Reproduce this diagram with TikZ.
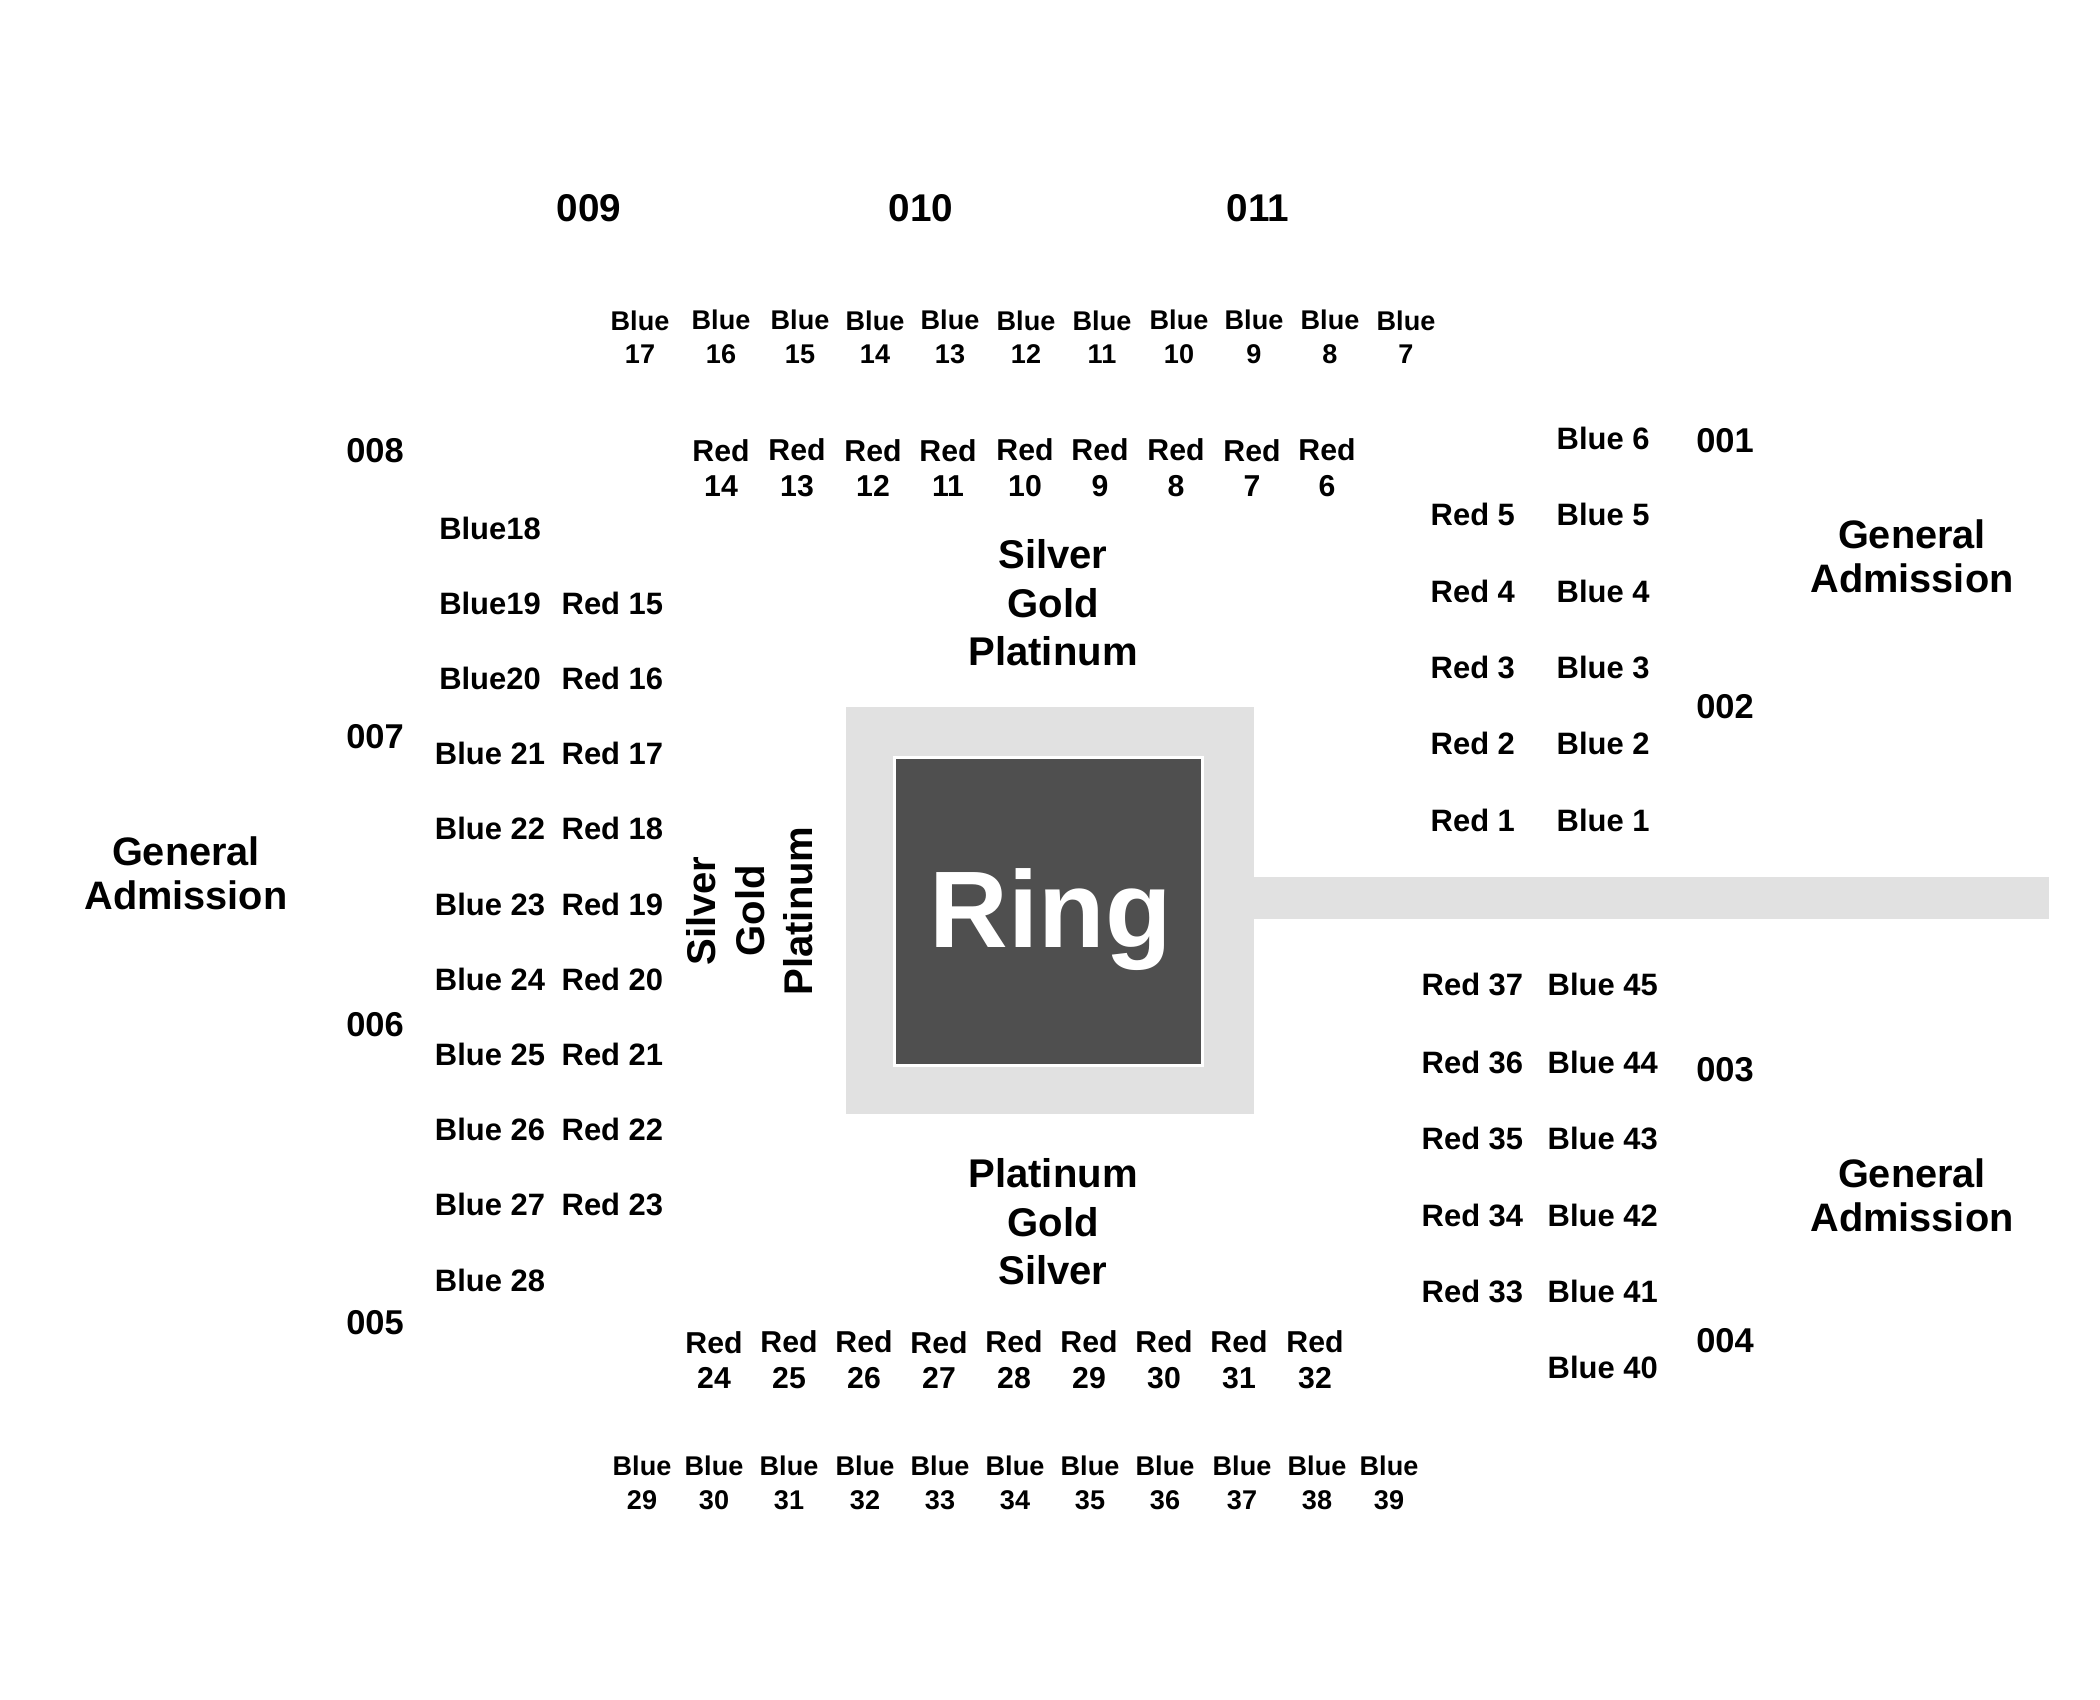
\documentclass[tikz,border=0pt]{standalone}
\usepackage{fontspec}
\setmainfont{Liberation Sans}
\definecolor{apron}{RGB}{225,225,225}
\definecolor{canvas}{RGB}{79,79,79}
\begin{document}
\begin{tikzpicture}[
  x=0.1mm,
  y=-0.1mm,
  aisle/.style={fill=apron},
  ringmat/.style={fill=canvas},
  ringlab/.style={font=\bfseries\fontsize{31}{35}\selectfont,text=white,inner sep=0pt},
  topsec/.style={font=\bfseries\fontsize{11}{13}\selectfont,inner sep=0pt},
  sec/.style={font=\bfseries\fontsize{9.8}{11}\selectfont,inner sep=0pt},
  ga/.style={font=\bfseries\fontsize{11.3}{12.5}\selectfont,align=center,inner sep=0pt},
  tier/.style={font=\bfseries\fontsize{11.4}{13.8}\selectfont,align=center,inner sep=0pt},
  bseat/.style={font=\bfseries\fontsize{7.7}{9.5}\selectfont,align=center,inner sep=0pt},
  rseat/.style={font=\bfseries\fontsize{8.6}{10.2}\selectfont,align=center,inner sep=0pt},
  side/.style={font=\bfseries\fontsize{8.8}{10}\selectfont,inner sep=0pt}
]
\useasboundingbox (0,0) rectangle (2100,1700);
\path[aisle] (846,707) rectangle (1254,1114);
\path[aisle] (1254,877) rectangle (2049,919);
\fill[white] (893,756) rectangle (1204,1067);
\path[ringmat] (896,759) rectangle (1201,1064);
\node[ringlab,anchor=base] (ring) at (1051,948) {Ring};

\foreach \s/\x in {009/589,010/921,011/1258}
  \node[topsec] (s\s) at (\x,208) {\s};
\foreach \s/\y in {008/451,007/737,006/1025,005/1323}
  \node[sec] (s\s) at (375,\y) {\s};
\foreach \s/\y in {001/441,002/707,003/1070,004/1341}
  \node[sec] (s\s) at (1725,\y) {\s};

\node[ga] (gaW) at (186,873) {General\\Admission};
\node[ga] (gaNE) at (1912,556) {General\\Admission};
\node[ga] (gaSE) at (1912,1195) {General\\Admission};

\node[tier] (tierN) at (1053,603) {Silver\\Gold\\Platinum};
\node[tier] (tierS) at (1053,1222) {Platinum\\Gold\\Silver};
\node[tier,rotate=90] (tierW) at (750,911) {Silver\\Gold\\Platinum};

\foreach \n/\x in {17/640,16/721,15/800,14/875,13/950,12/1026,11/1102,10/1179,9/1254,8/1330,7/1406}
  \node[bseat] (tb\n) at (\x,337) {Blue\\\n};
\foreach \n/\x in {14/721,13/797,12/873,11/948,10/1025,9/1100,8/1176,7/1252,6/1327}
  \node[rseat] (tr\n) at (\x,468) {Red\\\n};
\foreach \n/\x in {24/714,25/789,26/864,27/939,28/1014,29/1089,30/1164,31/1239,32/1315}
  \node[rseat] (br\n) at (\x,1360) {Red\\\n};
\foreach \n/\x in {29/642,30/714,31/789,32/865,33/940,34/1015,35/1090,36/1165,37/1242,38/1317,39/1389}
  \node[bseat] (bb\n) at (\x,1483) {Blue\\\n};

\foreach \t [count=\k from 0] in {Blue18,Blue19,Blue20,Blue 21,Blue 22,Blue 23,Blue 24,Blue 25,Blue 26,Blue 27,Blue 28}
  \node[side] (lb\k) at (490,{528+75.2*\k}) {\t};
\foreach \n [count=\k from 1] in {15,...,23}
  \node[side,anchor=west] (lr\n) at (561,{528+75.2*\k}) {Red \n};

\node[side,anchor=west] (rb6) at (1556,438) {Blue 6};
\foreach \n/\y in {5/514,4/591,3/667,2/743,1/820} {
  \node[side,anchor=west] (rr\n) at (1430,\y) {Red \n};
  \node[side,anchor=west] (rb\n) at (1556,\y) {Blue \n};
}
\foreach \r/\b/\y in {37/45/984,36/44/1062,35/43/1138,34/42/1215,33/41/1291} {
  \node[side,anchor=west] (rr\r) at (1421,\y) {Red \r};
  \node[side,anchor=west] (rb\b) at (1547,\y) {Blue \b};
}
\node[side,anchor=west] (rb40) at (1547,1367) {Blue 40};
\end{tikzpicture}
\end{document}
